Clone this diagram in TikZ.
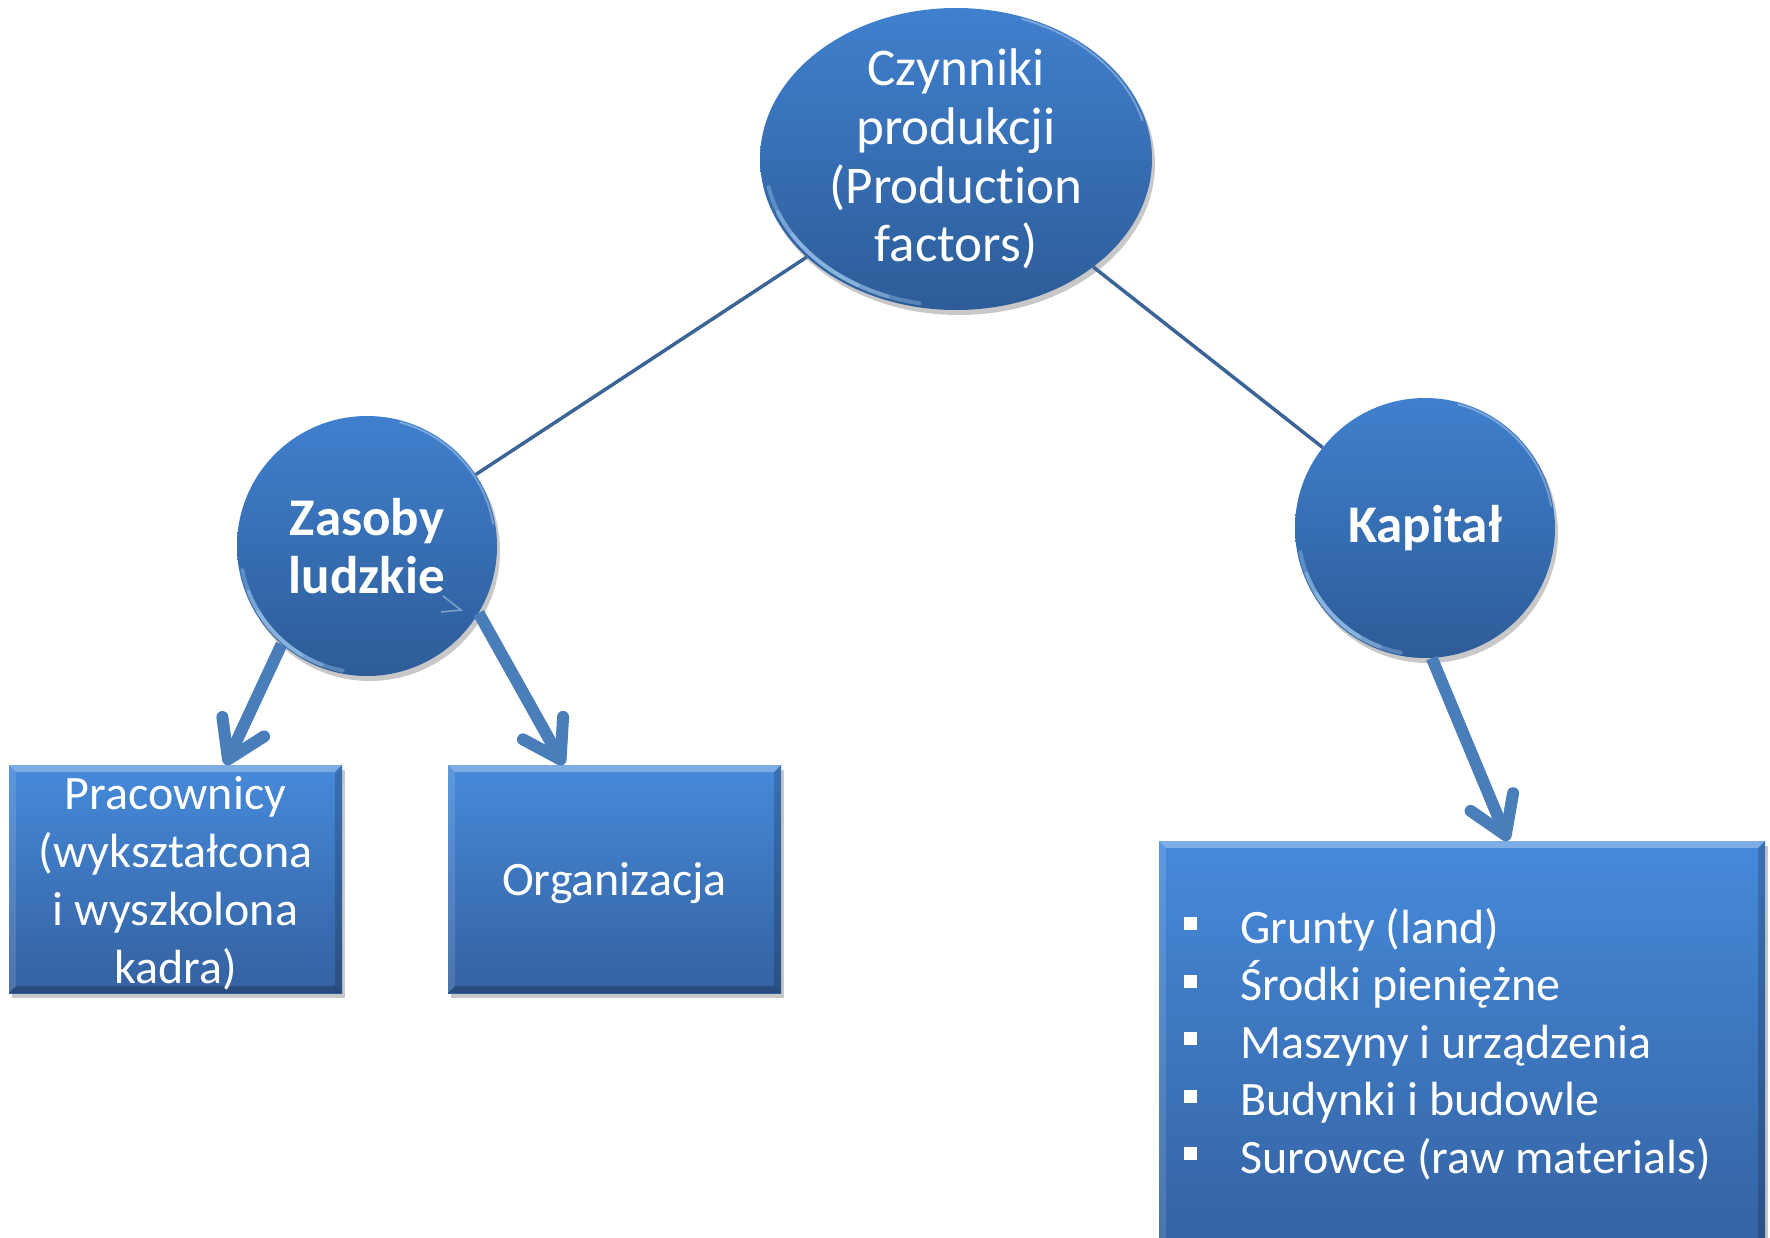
\documentclass[tikz,border=0pt]{standalone}
\usepackage{fontspec}
\setmainfont{Carlito}[Ligatures=NoCommon]
\usetikzlibrary{shapes.geometric,shadows,arrows.meta,calc}

\definecolor{orbtop}{RGB}{64,128,206}
\definecolor{orbbot}{RGB}{45,92,152}
\definecolor{boxtop}{RGB}{70,138,218}
\definecolor{boxbot}{RGB}{52,97,160}
\definecolor{arrowblue}{RGB}{74,126,187}
\definecolor{linkblue}{RGB}{60,100,150}
\definecolor{glow}{RGB}{170,210,245}

% bevelled edge bands of a rectangular node
\newcommand\bevelframe[1]{%
  \fill[white,opacity=.30] (#1.north west) -- (#1.north east) -- ([shift={(-7,-7)}]#1.north east) -- ([shift={(7,-7)}]#1.north west) -- cycle;
  \fill[white,opacity=.12] (#1.north west) -- ([shift={(7,-7)}]#1.north west) -- ([shift={(7,7)}]#1.south west) -- (#1.south west) -- cycle;
  \fill[black,opacity=.18] (#1.north east) -- (#1.south east) -- ([shift={(-7,7)}]#1.south east) -- ([shift={(-7,-7)}]#1.north east) -- cycle;
  \fill[black,opacity=.22] (#1.south west) -- ([shift={(7,7)}]#1.south west) -- ([shift={(-7,7)}]#1.south east) -- (#1.south east) -- cycle;}

\tikzset{
  softshadow/.style={drop shadow={shadow xshift=3pt,shadow yshift=-5pt,opacity=.3,fill=black!70}},
  orb/.style={circle,inner sep=0pt,minimum size=260pt,top color=orbtop,bottom color=orbbot,softshadow},
  oval/.style={ellipse,inner sep=0pt,minimum width=392pt,minimum height=302pt,top color=orbtop,bottom color=orbbot,softshadow},
  block/.style={rectangle,inner sep=0pt,minimum width=333pt,minimum height=228pt,top color=boxtop,bottom color=boxbot,softshadow},
  label/.style={text=white,align=center,inner sep=0pt,font=\fontsize{48}{58}\selectfont},
  biglabel/.style={text=white,align=center,inner sep=0pt,font=\fontsize{53}{58.7}\selectfont},
  boldlabel/.style={biglabel,font=\fontsize{53}{58.7}\selectfont\bfseries},
  item/.style={text=white,anchor=base west,inner sep=0pt,font=\fontsize{48}{57.6}\selectfont},
  link/.style={draw=linkblue,line width=3.5pt},
  arrowlink/.style={draw=arrowblue,line width=12pt,-{Straight Barb[length=36pt,width=46pt,round]}},
  rim/.style={glow,line width=4pt,opacity=.35,line cap=round},
  thinrim/.style={white,line width=2pt,opacity=.3,line cap=round},
}

\begin{document}
\begin{tikzpicture}[x=1pt,y=1pt]
\useasboundingbox (0,0) rectangle (1770,-1238);
\clip (0,0) rectangle (1770,-1238);
\fill[white] (0,0) rectangle (1770,-1238);

% shapes
\node[oval] (top) at (956,-159) {};
\node[orb]  (zas) at (367,-546) {};
\node[orb]  (kap) at (1425,-528) {};
\node[block] (p1) at (175.5,-879) {};
\node[block] (p2) at (614.5,-879) {};
\node[block,minimum width=606pt,minimum height=420pt] (p3) at (1462,-1051) {};

% glowing rims of the rounded shapes
\foreach \s in {34,24,14}{
  \draw[rim] ([shift={(225-\s:191 and 147)}]top.center) arc[start angle=225-\s,end angle=225+\s,x radius=191,y radius=147];
  \draw[rim] ([shift={(225-\s:127)}]zas.center) arc[start angle=225-\s,end angle=225+\s,radius=127];
  \draw[rim] ([shift={(225-\s:127)}]kap.center) arc[start angle=225-\s,end angle=225+\s,radius=127];
}
\draw[thinrim] ([shift={(15:193 and 149)}]top.center) arc[start angle=15,end angle=70,x radius=193,y radius=149];
\foreach \n in {zas,kap}{
  \draw[thinrim] ([shift={(10:128)}]\n.center) arc[start angle=10,end angle=75,radius=128];
}

% bevels of the boxes
\bevelframe{p1}
\bevelframe{p2}
\bevelframe{p3}

% connectors
\draw[link] (top) -- (zas);
\draw[link] (top) -- (kap);
\draw[arrowlink] (zas.229) -- ([xshift=50pt]p1.north);
\draw[arrowlink] (zas.329) -- ([xshift=-51pt]p2.north);
\draw[arrowlink] (kap.273) -- ([xshift=46pt]p3.north);

% small mark inside the left circle
\draw[arrowblue!60!white,line width=1.5pt,opacity=.8] ([shift={(76,-50)}]zas.center) -- ([shift={(94,-64)}]zas.center) -- ([shift={(74,-66)}]zas.center);

% texts
\node[biglabel] (ttop) at (956,-159) {Czynniki\\produkcji\\(Production\\factors)};
\node[boldlabel] (tzas) at (367,-546) {Zasoby\\ludzkie};
\node[boldlabel] (tkap) at (1425,-528) {Kapitał};
\node[label] (tp1) at (175.5,-883) {Pracownicy\\(wykształcona\\i wyszkolona\\kadra)};
\node[label] (tp2) at (614.5,-883) {Organizacja};

\node[item] (l1) at (1184,-943)   {\rule[13pt]{13pt}{13pt}\hspace{43pt}Grunty (land)};
\node[item] (l2) at (1184,-1000.6){\rule[13pt]{13pt}{13pt}\hspace{43pt}Środki pieniężne};
\node[item] (l3) at (1184,-1058.2){\rule[13pt]{13pt}{13pt}\hspace{43pt}Maszyny i urządzenia};
\node[item] (l4) at (1184,-1115.8){\rule[13pt]{13pt}{13pt}\hspace{43pt}Budynki i budowle};
\node[item] (l5) at (1184,-1173.4){\rule[13pt]{13pt}{13pt}\hspace{43pt}Surowce (raw materials)};
\end{tikzpicture}
\end{document}
